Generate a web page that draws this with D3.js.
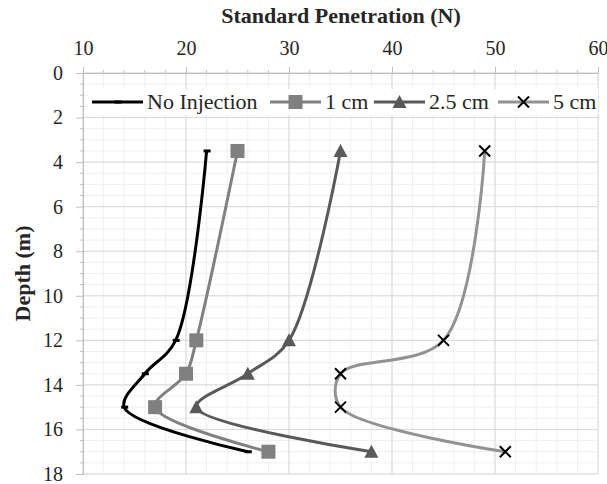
<!DOCTYPE html>
<html>
<head>
<meta charset="utf-8">
<script src="https://cdn.jsdelivr.net/npm/d3@7"></script>
<style>
  body { margin: 0; background: #fff; }
  text { font-family: 'Liberation Serif', 'Times New Roman', serif; }
</style>
</head>
<body>
<script>
let depths = [3.5, 12, 13.5, 15, 17]
let noInjection = [22, 19, 16, 14, 26]
let oneCm = [25, 21, 20, 17, 28]
let twoHalfCm = [35, 30, 26, 21, 38]
let fiveCm = [49, 45, 35, 35, 51]
let seriesNames = ['No Injection', '1 cm', '2.5 cm', '5 cm']
let xTicks = [10, 20, 30, 40, 50, 60]
let yTicks = [0, 2, 4, 6, 8, 10, 12, 14, 16, 18]

let width = 607, height = 484
let margin = { top: 73, left: 83, right: 9, bottom: 10 }
let chartWidth = width - margin.left - margin.right
let chartHeight = height - margin.top - margin.bottom

let series = [
  { name: seriesNames[0], values: noInjection, color: '#000000', marker: 'dash' },
  { name: seriesNames[1], values: oneCm, color: '#808080', marker: 'square' },
  { name: seriesNames[2], values: twoHalfCm, color: '#595959', marker: 'triangle' },
  { name: seriesNames[3], values: fiveCm, color: '#929292', marker: 'cross' }
]

let svg = d3.select('body').append('svg')
  .attr('width', width)
  .attr('height', height)

let x = d3.scaleLinear().domain([10, 60]).range([0, chartWidth])
let y = d3.scaleLinear().domain([0, 18]).range([0, chartHeight])

let chart = svg.append('g')
  .attr('transform', `translate(${margin.left}, ${margin.top})`)

// minor grid
chart.append('g')
  .selectAll('line')
  .data(d3.range(10, 60.01, 2))
  .enter().append('line')
  .attr('x1', d => x(d)).attr('x2', d => x(d))
  .attr('y1', 0).attr('y2', chartHeight)
  .attr('stroke', '#efefef')
chart.append('g')
  .selectAll('line')
  .data(d3.range(0, 18.01, 0.5))
  .enter().append('line')
  .attr('y1', d => y(d)).attr('y2', d => y(d))
  .attr('x1', 0).attr('x2', chartWidth)
  .attr('stroke', '#efefef')

// major grid
chart.append('g')
  .selectAll('line')
  .data(xTicks)
  .enter().append('line')
  .attr('x1', d => x(d)).attr('x2', d => x(d))
  .attr('y1', 0).attr('y2', chartHeight)
  .attr('stroke', '#d9d9d9')
chart.append('g')
  .selectAll('line')
  .data(yTicks)
  .enter().append('line')
  .attr('y1', d => y(d)).attr('y2', d => y(d))
  .attr('x1', 0).attr('x2', chartWidth)
  .attr('stroke', '#d9d9d9')

// axes
let xAxis = chart.append('g')
  .call(d3.axisTop(x).tickValues(xTicks).tickSize(6).tickPadding(12))
let yAxis = chart.append('g')
  .call(d3.axisLeft(y).tickValues(yTicks).tickSize(7).tickPadding(13))

;[xAxis, yAxis].forEach(a => {
  a.select('.domain').attr('stroke', '#bfbfbf')
  a.selectAll('.tick line').attr('stroke', '#bfbfbf')
  a.selectAll('.tick text')
    .attr('font-size', '20px')
    .attr('fill', '#262626')
    .style('font-family', "'Liberation Serif', serif")
})

// minor ticks
chart.append('g').selectAll('line')
  .data(d3.range(12, 60, 2).filter(d => d % 10 !== 0))
  .enter().append('line')
  .attr('x1', d => x(d)).attr('x2', d => x(d))
  .attr('y1', 0).attr('y2', -3)
  .attr('stroke', '#bfbfbf')
chart.append('g').selectAll('line')
  .data(d3.range(0.5, 18, 0.5).filter(d => d % 2 !== 0))
  .enter().append('line')
  .attr('y1', d => y(d)).attr('y2', d => y(d))
  .attr('x1', 0).attr('x2', -3)
  .attr('stroke', '#bfbfbf')

// titles
svg.append('text')
  .attr('x', 341)
  .attr('y', 23)
  .attr('text-anchor', 'middle')
  .attr('font-size', '22px')
  .attr('font-weight', 'bold')
  .attr('fill', '#262626')
  .text('Standard Penetration (N)')

svg.append('text')
  .attr('transform', `translate(30, ${margin.top + chartHeight / 2}) rotate(-90)`)
  .attr('text-anchor', 'middle')
  .attr('font-size', '22px')
  .attr('font-weight', 'bold')
  .attr('fill', '#262626')
  .text('Depth (m)')

let line = d3.line()
  .x(d => x(d[0]))
  .y(d => y(d[1]))
  .curve(d3.curveCatmullRom.alpha(0.5))

function drawMarker(g, type, cx, cy) {
  if (type === 'dash') {
    g.append('rect')
      .attr('x', cx - 3).attr('y', cy - 1.5)
      .attr('width', 7).attr('height', 3)
      .attr('fill', '#000')
  } else if (type === 'square') {
    g.append('rect')
      .attr('x', cx - 7).attr('y', cy - 7)
      .attr('width', 14).attr('height', 14)
      .attr('fill', '#808080')
  } else if (type === 'triangle') {
    g.append('path')
      .attr('d', `M${cx},${cy - 7}L${cx + 7},${cy + 6}L${cx - 7},${cy + 6}Z`)
      .attr('fill', '#595959')
  } else if (type === 'cross') {
    g.append('path')
      .attr('d', `M${cx - 5.5},${cy - 5.5}L${cx + 5.5},${cy + 5.5}M${cx - 5.5},${cy + 5.5}L${cx + 5.5},${cy - 5.5}`)
      .attr('stroke', '#000')
      .attr('stroke-width', 2)
  }
}

series.forEach(s => {
  let pts = s.values.map((v, i) => [v, depths[i]])
  chart.append('path')
    .attr('d', line(pts))
    .attr('fill', 'none')
    .attr('stroke', s.color)
    .attr('stroke-width', 3)
  let mg = chart.append('g')
  pts.forEach(p => drawMarker(mg, s.marker, x(p[0]), y(p[1])))
})

// legend
let legendX = [92, 270, 374, 498]
let ly = 102
let legend = svg.append('g')
legend.append('rect')
  .attr('x', 88).attr('y', 89)
  .attr('width', 510).attr('height', 26)
  .attr('fill', '#fff')
series.forEach((s, i) => {
  let lx = legendX[i]
  legend.append('line')
    .attr('x1', lx).attr('x2', lx + 51)
    .attr('y1', ly).attr('y2', ly)
    .attr('stroke', s.color)
    .attr('stroke-width', 3)
  drawMarker(legend, s.marker, lx + 25.5, ly)
  legend.append('text')
    .attr('x', lx + 55)
    .attr('y', ly + 7)
    .attr('font-size', '22px')
    .attr('fill', '#262626')
    .text(s.name)
})
</script>
</body>
</html>
